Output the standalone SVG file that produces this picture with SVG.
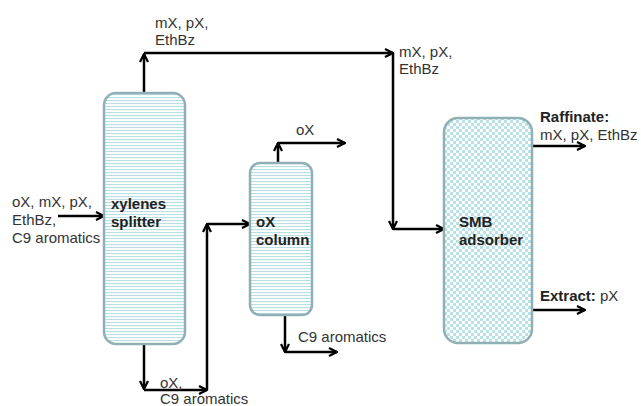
<svg xmlns="http://www.w3.org/2000/svg" width="641" height="406" viewBox="0 0 641 406">
<style>
text{font-family:"Liberation Sans",Arial,sans-serif;font-size:15px;fill:#333}
.b{font-weight:bold;fill:#222}
.box{stroke:#8fb0b4;stroke-width:2.5}
.c{fill:none;stroke:#000;stroke-width:2.5;marker-end:url(#ah)}
</style>
<defs>
<marker id="ah" viewBox="0 0 10 10" refX="9" refY="5" markerWidth="10" markerHeight="10" markerUnits="userSpaceOnUse" orient="auto">
<path d="M1,1 L9,5 L1,9" fill="none" stroke="#000" stroke-width="2.2"/>
</marker>
<pattern id="stripes" width="6" height="3" patternUnits="userSpaceOnUse">
<rect width="6" height="3" fill="#fff"/>
<rect y="1" width="6" height="1.1" fill="#b8dfe3"/>
</pattern>
<pattern id="checks" width="6" height="6" patternUnits="userSpaceOnUse">
<rect width="6" height="6" fill="#fff"/>
<rect width="3" height="3" fill="#b9e2e6"/>
<rect x="3" y="3" width="3" height="3" fill="#b9e2e6"/>
</pattern>
</defs>
<rect width="641" height="406" fill="#fff"/>

<g id="connectors">
<path class="c" d="M144,93 L144,54"/>
<path class="c" d="M144,53 L393,53"/>
<path class="c" d="M393,53 L393,229"/>
<path class="c" d="M393,229 L444,229"/>
<path class="c" d="M58,216 L104,216"/>
<path class="c" d="M144,344 L144,389"/>
<path class="c" d="M144,390 L207,390"/>
<path class="c" d="M207,390 L207,224"/>
<path class="c" d="M207,224 L250,224"/>
<path class="c" d="M278,163 L278,143"/>
<path class="c" d="M278,143 L345,143"/>
<path class="c" d="M285,315 L285,352"/>
<path class="c" d="M285,352 L337,352"/>
<path class="c" d="M532,146 L585,146"/>
<path class="c" d="M532,310 L585,310"/>
</g>

<g id="splitter">
<rect class="box" x="104" y="93" width="81" height="251" rx="12" fill="url(#stripes)"/>
<text class="b" x="111" y="209">xylenes</text>
<text class="b" x="111" y="227">splitter</text>
</g>

<g id="oxcolumn">
<rect class="box" x="250" y="163" width="62" height="152" rx="10" fill="url(#stripes)"/>
<text class="b" x="256" y="227">oX</text>
<text class="b" x="256" y="245">column</text>
</g>

<g id="smb">
<rect class="box" x="444" y="118" width="88" height="225" rx="14" fill="url(#checks)"/>
<text class="b" x="459" y="227">SMB</text>
<text class="b" x="459" y="245">adsorber</text>
</g>

<g id="labels">
<text x="12" y="207">oX, mX, pX,</text>
<text x="12" y="225">EthBz,</text>
<text x="12" y="243">C9 aromatics</text>
<text x="155" y="28">mX, pX,</text>
<text x="155" y="45">EthBz</text>
<text x="399" y="57">mX, pX,</text>
<text x="399" y="74">EthBz</text>
<text x="296" y="135">oX</text>
<text x="298" y="342">C9 aromatics</text>
<text x="160" y="388">oX,</text>
<text x="160" y="404">C9 aromatics</text>
<text class="b" x="540" y="122">Raffinate:</text>
<text x="540" y="140">mX, pX, EthBz</text>
<text x="540" y="301"><tspan class="b">Extract:</tspan> pX</text>
</g>
</svg>
